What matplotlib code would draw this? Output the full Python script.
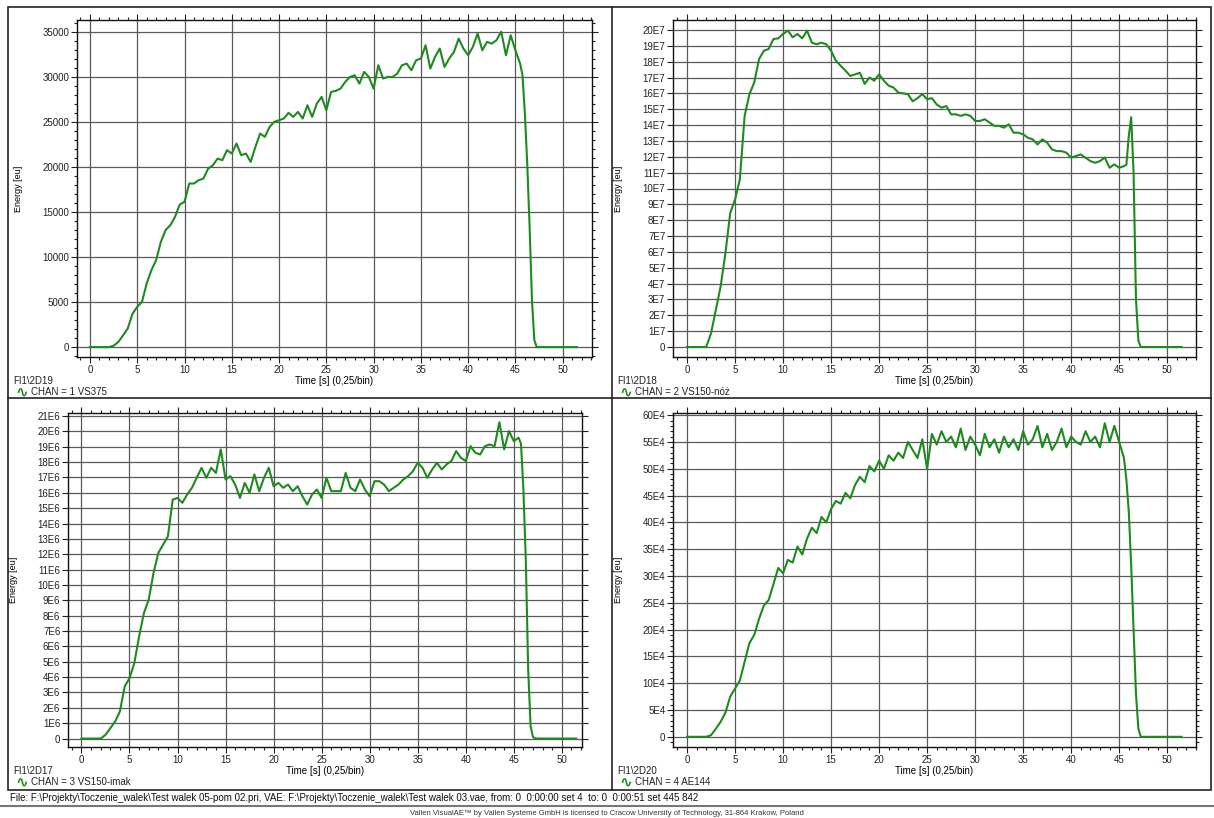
import numpy as np
import matplotlib
matplotlib.use('Agg')
import matplotlib.pyplot as plt
from matplotlib.ticker import MultipleLocator, FuncFormatter
from matplotlib.patches import Rectangle
from matplotlib.lines import Line2D

plt.rcParams['font.family'] = ['Liberation Sans', 'DejaVu Sans']
plt.rcParams['font.size'] = 7

# time bins [s]
t = np.concatenate([np.arange(0, 45.5, 0.5), np.arange(45.5, 47.5, 0.25), np.arange(47.5, 52, 0.5)])

# CHAN 1 VS375, energy [eu]
chan1 = [0, 0, 0, 0, 0, 150, 570, 1300, 2070, 3700,
         4470, 5000, 7060, 8540, 9650, 11680, 12980, 13530, 14460, 15820,
         16120, 18150, 18150, 18520, 18700, 19800, 20180, 20920, 20740, 21850,
         21480, 22590, 21290, 21480, 20550, 22220, 23700, 23330, 24440, 25000,
         25180, 25360, 26000, 25550, 26100, 25360, 26840, 25550, 27030, 27770,
         26290, 28320, 28430, 28690, 29430, 29980, 30170, 29240, 30540, 29980,
         28690, 31280, 29800, 29980, 29980, 30350, 31280, 31460, 30720, 31830,
         32020, 33500, 30910, 32210, 33130, 31090, 32020, 32760, 34240, 33130,
         32390, 33320, 34800, 32940, 33870, 33680, 34060, 35000, 32390, 34610,
         32940,
         31460, 30170, 25920, 20370, 13340, 5200, 780, 0,
         0, 0, 0, 0, 0, 0, 0, 0, 0]

# CHAN 2 VS150-nóż, energy [1E7 eu]
chan2 = [0, 0, 0, 0, 0, 0.86, 2.34, 3.82, 5.93, 8.46,
         9.3, 10.57, 14.58, 15.95, 16.69, 18.16, 18.69, 18.8, 19.43, 19.47,
         19.75, 19.96, 19.54, 19.75, 19.47, 19.96, 19.2, 19.1, 19.2, 19.1,
         18.69, 18.06, 17.74, 17.43, 17.1, 17.2, 17.3, 16.6, 17.0, 16.8,
         17.2, 16.8, 16.48, 16.37, 16.05, 16.0, 15.95, 15.5, 15.7, 15.95,
         15.63, 15.7, 15.3, 15.1, 15.2, 14.68, 14.68, 14.58, 14.68, 14.58,
         14.26, 14.26, 14.37, 14.16, 13.95, 13.95, 13.84, 14.05, 13.52, 13.52,
         13.42, 13.2, 13.1, 12.78, 13.1, 12.89, 12.47, 12.36, 12.36, 12.26,
         11.94, 12.05, 12.15, 11.94, 11.73, 11.62, 11.73, 11.95, 11.31, 11.52,
         11.31,
         11.41, 11.5, 13.3, 14.5, 11.0, 3.0, 0.4, 0,
         0, 0, 0, 0, 0, 0, 0, 0, 0]

# CHAN 3 VS150-imak, energy [1E6 eu]
chan3 = [0, 0, 0, 0, 0, 0.24, 0.67, 1.1, 1.76, 3.39,
         3.93, 4.91, 6.65, 8.17, 9.04, 10.78, 12.09, 12.63, 13.17, 15.56,
         15.67, 15.35, 15.89, 16.33, 16.98, 17.63, 16.98, 17.63, 17.3, 18.83,
         16.87, 17.09, 16.54, 15.67, 16.65, 16.0, 17.2, 16.11, 16.98, 17.63,
         16.43, 16.65, 16.33, 16.54, 16.11, 16.43, 15.78, 15.24, 15.89, 16.22,
         15.67, 16.98, 16.11, 16.11, 16.11, 17.3, 16.33, 16.11, 16.87, 16.22,
         15.78, 16.76, 16.76, 16.54, 16.11, 16.33, 16.54, 16.87, 17.09, 17.41,
         17.96, 17.63, 16.98, 17.52, 17.96, 17.52, 17.85, 18.07, 18.72, 18.28,
         18.07, 19.04, 18.61, 18.5, 19.04, 19.15, 19.04, 20.6, 18.83, 20.02,
         19.37,
         19.59, 19.2, 16.22, 11.65, 4.48, 0.8, 0.1, 0,
         0, 0, 0, 0, 0, 0, 0, 0, 0]

# CHAN 4 AE144, energy [1E4 eu]
chan4 = [0, 0, 0, 0, 0, 0.3, 1.5, 2.8, 4.5, 7.5,
         9.0, 10.5, 14.0, 17.5, 19.0, 22.0, 24.5, 25.5, 28.5, 31.5,
         30.5, 33.0, 32.5, 35.5, 34.0, 37.0, 39.0, 38.0, 41.0, 40.0,
         42.5, 44.0, 43.5, 45.5, 44.5, 47.0, 48.5, 47.5, 50.5, 49.5,
         51.5, 50.0, 52.5, 51.5, 53.0, 52.0, 55.0, 53.5, 52.0, 55.5,
         50.0, 56.5, 54.5, 57.0, 55.0, 56.0, 54.0, 57.5, 53.5, 56.0,
         54.5, 52.5, 56.5, 54.0, 55.5, 53.0, 56.0, 54.0, 55.5, 53.5,
         57.0, 54.5, 55.5, 58.0, 54.0, 56.5, 53.5, 55.0, 57.5, 54.0,
         56.0, 55.0, 54.5, 57.0, 55.0, 56.0, 54.0, 58.5, 55.0, 58.0,
         55.0,
         52.0, 48.0, 42.0, 32.0, 20.0, 8.0, 1.5, 0,
         0, 0, 0, 0, 0, 0, 0, 0, 0]

W, H = 1214, 818
GREEN = '#1f8a1f'
GRID = '#5a5a5a'


def px(x0, y0, x1, y1):
    # pixel box -> figure fraction [left, bottom, width, height]
    return [x0 / W, 1 - y1 / H, (x1 - x0) / W, (y1 - y0) / H]


def e_fmt(exp):
    def f(v, pos):
        if abs(v) < 1e-9:
            return '0'
        return '%dE%d' % (int(round(v)), exp)
    return f


def panel(rect, y, xlim, ylim, ystep, yminor, fmt, name, chan, lab_x, lab_y):
    ax = fig.add_axes(px(*rect))
    ax.plot(t, y, color=GREEN, lw=1.5)
    ax.set_xlim(*xlim)
    ax.set_ylim(*ylim)
    ax.xaxis.set_major_locator(MultipleLocator(5))
    ax.xaxis.set_minor_locator(MultipleLocator(1))
    ax.yaxis.set_major_locator(MultipleLocator(ystep))
    if yminor:
        ax.yaxis.set_minor_locator(MultipleLocator(yminor))
    if fmt is not None:
        ax.yaxis.set_major_formatter(FuncFormatter(fmt))
    ax.grid(True, which='major', color=GRID, lw=0.9)
    ax.set_axisbelow(True)
    ax.tick_params(which='both', direction='out', top=True, right=True,
                   labelsize=7, labelcolor='#222222', color='#222222', width=0.8)
    ax.tick_params(which='major', length=4, pad=1.5)
    ax.tick_params(which='minor', length=2.5)
    for s in ax.spines.values():
        s.set_color('#111111')
        s.set_linewidth(1.0)
    ax.set_ylabel('Energy [eu]', fontsize=6.5, labelpad=4)
    ax.yaxis.set_label_coords(lab_y, 0.5)
    ax.set_xlabel('Time [s] (0,25/bin)', fontsize=7, labelpad=1)
    fig.text(lab_x / W, 1 - (rect[3] + 24) / H, name, fontsize=7, color='#222222', va='center')
    fig.text((lab_x + 2) / W, 1 - (rect[3] + 35) / H, '\u223f', fontsize=11, color=GREEN,
             family='DejaVu Sans', fontweight='bold', va='center')
    fig.text((lab_x + 18) / W, 1 - (rect[3] + 35) / H, chan, fontsize=7, color='#222222', va='center')
    return ax


fig = plt.figure(figsize=(W / 100, H / 100), dpi=100)

panel((77, 20, 592, 357), np.array(chan1), (-1.37, 53.1), (-1100, 36300), 5000, 1000, None,
      'FI1\\2D19', 'CHAN = 1 VS375', 13, -0.105)
panel((673, 20, 1196, 357), np.array(chan2), (-1.46, 53.0), (-0.63, 20.63), 1, None, e_fmt(7),
      'FI1\\2D18', 'CHAN = 2 VS150-nóż', 617, -0.095)
panel((68, 413, 582, 747), np.array(chan3), (-1.4, 52.1), (-0.55, 21.2), 1, None, e_fmt(6),
      'FI1\\2D17', 'CHAN = 3 VS150-imak', 13, -0.098)
panel((673, 413, 1196, 747), np.array(chan4), (-1.46, 53.0), (-1.9, 60.4), 5, 1, e_fmt(4),
      'FI1\\2D20', 'CHAN = 4 AE144', 617, -0.095)

# window frames
frame_kw = dict(transform=fig.transFigure, fill=False, lw=1.2, edgecolor='#222222')
fig.add_artist(Rectangle((8 / W, 1 - 790 / H), (1211 - 8) / W, (790 - 7) / H, **frame_kw))
fig.add_artist(Line2D([612 / W, 612 / W], [1 - 790 / H, 1 - 7 / H], color='#222222', lw=1.2))
fig.add_artist(Line2D([8 / W, 1211 / W], [1 - 398 / H, 1 - 398 / H], color='#222222', lw=1.2))
fig.add_artist(Line2D([0, 1], [1 - 806 / H, 1 - 806 / H], color='#777777', lw=1.5))

fig.text(10 / W, 1 - 798 / H,
         'File: F:\\Projekty\\Toczenie_walek\\Test walek 05-pom 02.pri, VAE: F:\\Projekty\\Toczenie_walek\\Test walek 03.vae, from: 0  0:00:00 set 4  to: 0  0:00:51 set 445 842',
         fontsize=7, color='#111111', va='center')
fig.text(607 / W, 1 - 813 / H,
         'Vallen VisualAE\u2122 by Vallen Systeme GmbH is licensed to Cracow University of Technology, 31-864 Krakow, Poland',
         fontsize=5.5, color='#333333', ha='center', va='center')

fig.savefig('out.png', dpi=100)
